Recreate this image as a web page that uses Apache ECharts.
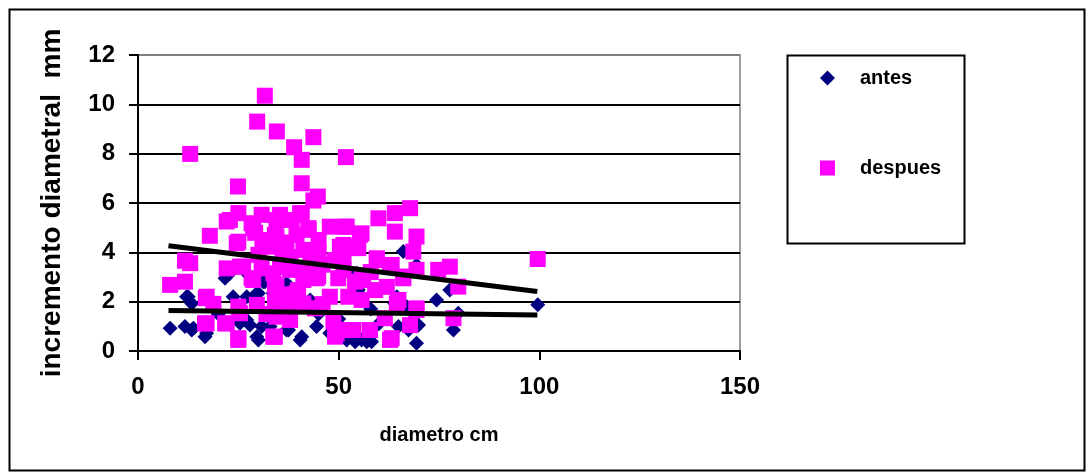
<!DOCTYPE html>
<html>
<head>
<meta charset="utf-8">
<script src="https://cdn.jsdelivr.net/npm/echarts@6/dist/echarts.min.js"></script>
<style>
html,body{margin:0;padding:0;background:#fff;}
#chart{width:1089px;height:473px;}
</style>
</head>
<body>
<div id="chart"></div>
<script>
// ---- data ----
var seriesNames = ['antes', 'despues'];
var xTitle = 'diametro cm';
var yTitle = 'incremento diametral  mm';

var antes = [
  [8,0.92],[11.7,0.99],[13.8,0.92],[16.7,0.58],[12.5,2.2],[13.4,1.93],[21.7,2.95],[23.7,2.2],
  [27.1,2.2],[25.4,1.12],[27.9,1.05],[29.6,0.58],[31.2,2.81],[44.5,0.99],[30.8,0.99],[37.5,0.85],
  [40.8,0.58],[42.9,2.07],[31.6,2.81],[54.9,2.47],[54.1,0.38],[43.7,3.96],[30,2.34],[66.1,4.03],
  [69.4,3.49],[74.4,2.07],[77.7,2.47],[78.6,0.85],[69.4,0.31],[64,1.93],[67.4,0.85],[55.7,0.45],
  [58.2,0.38],[64.9,0.99],[79.8,1.53],[69.9,1.05],[99.6,1.87],[13.4,0.85],[17.1,0.72],[30,0.45],
  [27.1,1.26],[32.9,0.99],[37,0.85],[40.4,0.45],[47.8,0.72],[29.6,2.34],[33.7,2.34],[37,2.75],
  [22.9,3.15],[27.1,3.15],[30.8,3.56],[36.2,3.83],[52,0.45],[57,0.38],[54.5,3.15],[64.5,2.2],
  [66.9,1.8],[12.1,2.2],[45,1.5],[50,1.3],[60,1.1],[35,1.6],[20,1.5],[58,1.7]
];

var despues = [
  [31.6,10.35],[29.7,9.3],[34.6,8.9],[43.7,8.67],[38.9,8.26],[40.8,7.75],[51.8,7.86],[13,7.99],
  [24.9,6.67],[40.8,6.8],[44.8,6.26],[43.7,6.1],[99.6,3.73],[25,5.59],[22.1,5.25],[28.3,5.18],
  [17.9,4.67],[25,4.43],[29.2,4.79],[11.7,3.66],[22.1,3.35],[25.4,3.42],[28.3,2.95],[8,2.68],
  [11.7,2.81],[16.9,2.14],[18.8,1.91],[25,1.8],[29.6,1.87],[16.7,1.12],[21.7,1.12],[25,0.52],
  [30.8,5.52],[35.4,5.52],[40.8,5.52],[47.8,5.04],[51.6,5.04],[55.3,4.71],[34.1,4.71],[39.5,4.71],
  [42.5,4.98],[32.9,4.23],[41.2,4.1],[51.2,4.3],[54.9,4.17],[49.1,3.69],[30.8,3.35],[35.4,3.42],
  [40.8,3.29],[44.5,2.95],[49.9,2.95],[54.1,2.81],[34.1,2.68],[39.9,2.47],[47.8,2.2],[52.4,2.2],
  [34.1,2.0],[37.9,1.8],[44.1,1.73],[48.7,1.19],[53.7,0.85],[34.1,0.58],[49.1,0.58],[67.8,5.79],
  [64,5.59],[59.9,5.38],[64,4.84],[69.4,4.64],[55.7,4.77],[68.6,4.03],[59.5,3.76],[63.2,3.49],
  [74.8,3.29],[77.7,3.42],[69.4,3.29],[66.1,2.95],[79.8,2.61],[55.7,2.95],[59.1,2.47],[64.9,2.07],
  [55.7,2.07],[69.4,1.73],[61.5,1.33],[67.8,1.05],[78.6,1.33],[57.8,0.85],[63.2,0.52],[13,3.56],
  [22.9,5.31],[28.7,4.98],[34.5,5.31],[38.3,5.31],[40.4,5.59],[42.5,4.91],[34.5,4.64],[24.6,4.37],
  [26.2,3.42],[28.7,2.88],[33.7,3.15],[37.9,3.29],[41.2,2.88],[50.3,4.23],[51.2,3.29],[34.5,2.61],
  [39.5,2.34],[44.9,3.02],[34.5,1.8],[41.2,1.93],[17.1,2.2],[25.4,1.53],[34.5,1.39],[37.9,1.26],
  [49.5,0.72],[17.1,1.12],[22.1,1.12],[25,0.45],[33.7,0.58],[52.8,0.85],[52,5.04],[52.8,4.23],
  [51.2,3.83],[59.5,3.69],[62.8,3.42],[66.1,3.02],[56.1,2.88],[64.5,1.93],[69.4,1.66],[62.8,0.45],
  [49.5,0.85],[36,4.0],[38,3.8],[31,4.5],[45,4.5],[46,3.5],[43,3.5],[36,2.3],[32,1.5],
  [46,1.9],[58,3.2],[62,2.6],[45,4.0],[37,4.4],[30,3.9]
];

// linear trend lines (end points)
var trendAntes = [[7.6,1.64],[99.5,1.46]];
var trendDespues = [[7.6,4.27],[99.5,2.41]];

var xMin = 0, xMax = 150, xStep = 50;
var yMin = 0, yMax = 12, yStep = 2;

// ---- chart ----
var FONT = '"Liberation Sans", Arial, sans-serif';
var chart = echarts.init(document.getElementById('chart'), null, {renderer: 'canvas'});
var splitColors = [];
for (var v = yMin; v <= yMax; v += yStep) splitColors.push(v === yMax ? '#808080' : '#000000');

chart.setOption({
  animation: false,
  backgroundColor: '#ffffff',
  grid: {
    left: 138, right: 349, top: 55, bottom: 122,
    show: true, borderColor: '#808080', borderWidth: 1.5, backgroundColor: 'transparent'
  },
  legend: {
    orient: 'vertical',
    left: 815, top: 63,
    itemWidth: 15, itemHeight: 15,
    itemGap: 70,
    itemStyle: {opacity: 1},
    textStyle: {fontFamily: FONT, fontWeight: 'bold', fontSize: 20, color: '#000', lineHeight: 20, padding: [0,0,0,20]},
    data: [
      {name: seriesNames[0], icon: 'diamond'},
      {name: seriesNames[1], icon: 'rect'}
    ]
  },
  xAxis: {
    type: 'value', min: xMin, max: xMax, interval: xStep,
    name: xTitle, nameLocation: 'middle', nameGap: 74,
    nameTextStyle: {fontFamily: FONT, fontWeight: 'bold', fontSize: 20, color: '#000'},
    axisLine: {show: true, lineStyle: {color: '#000', width: 2}},
    axisTick: {show: true, length: 9, lineStyle: {color: '#000', width: 2}},
    axisLabel: {fontFamily: FONT, fontWeight: 'bold', fontSize: 24, color: '#000', margin: 24},
    splitLine: {show: false}
  },
  yAxis: {
    type: 'value', min: yMin, max: yMax, interval: yStep,
    name: yTitle, nameLocation: 'middle', nameGap: 72, nameRotate: 90,
    nameTextStyle: {fontFamily: FONT, fontWeight: 'bold', fontSize: 28, color: '#000'},
    axisLine: {show: true, lineStyle: {color: '#000', width: 2}},
    axisTick: {show: true, length: 9, lineStyle: {color: '#000', width: 2}},
    axisLabel: {fontFamily: FONT, fontWeight: 'bold', fontSize: 24, color: '#000', margin: 23},
    splitLine: {show: true, lineStyle: {color: splitColors, width: 2}}
  },
  series: [
    {
      name: seriesNames[0], type: 'scatter', symbol: 'diamond', symbolSize: 15,
      itemStyle: {color: '#000080', opacity: 1}, data: antes, z: 2
    },
    {
      name: seriesNames[1], type: 'scatter', symbol: 'rect', symbolSize: 16,
      itemStyle: {color: '#FF00FF', opacity: 1}, data: despues, z: 3
    },
    {
      name: 'trendAntes', type: 'line', data: trendAntes, symbol: 'none',
      lineStyle: {color: '#000', width: 5}, z: 4, silent: true
    },
    {
      name: 'trendDespues', type: 'line', data: trendDespues, symbol: 'none',
      lineStyle: {color: '#000', width: 5}, z: 4, silent: true
    }
  ],
  graphic: [
    {type: 'rect', left: 7, top: 7, shape: {width: 1075, height: 461},
     style: {fill: 'none', stroke: '#000', lineWidth: 2}, silent: true},
    {type: 'rect', left: 785, top: 53, shape: {width: 177, height: 188},
     style: {fill: 'none', stroke: '#000', lineWidth: 2}, silent: true}
  ]
});
</script>
</body>
</html>
